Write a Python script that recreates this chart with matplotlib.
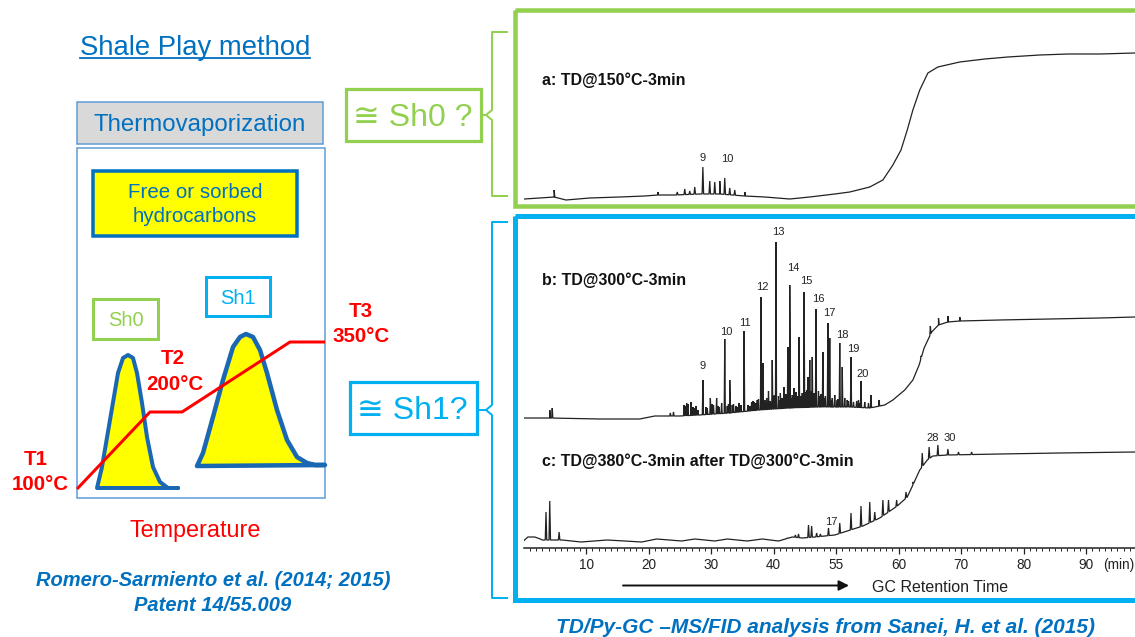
import numpy as np
import matplotlib
matplotlib.use('Agg')
import matplotlib.pyplot as plt
from matplotlib.patches import Rectangle, Polygon

W, H = 1135, 637
plt.rcParams['font.family'] = ['Liberation Sans', 'DejaVu Sans']

# ---------------- data ----------------
tick_pos = [10, 20, 30, 40, 50, 60, 70, 80, 90]
tick_labels = ['10', '20', '30', '40', '55', '60', '70', '80', '90']

# trace a (TD@150C) : baseline (time, signal) and peak apexes (time, signal)
a_base_t = [0.1, 2.6, 4.9, 6.8, 10.6, 15.4, 19.4, 21.5, 24.2, 28.2, 31.4, 35.4, 38.6, 42.6, 45.8,
            49.8, 52.2, 55.4, 57.5, 59.1, 60.4, 61.4, 62.3, 63.4, 64.7, 66.3, 69.8, 73.8, 77.5,
            82.6, 87.1, 92.2, 97.8]
a_base_s = [6, 7, 8, 5, 7, 8, 9, 10, 10, 11, 11, 9, 8, 6, 8,
            11, 13, 18, 25, 40, 55, 75, 95, 115, 132, 138, 143, 146, 148,
            150, 151, 151, 152]
a_peak_t = [4.9, 21.5, 24.6, 25.8, 26.6, 27.4, 28.7, 29.8, 30.6, 31.4, 32.2, 33.0, 33.8, 35.4]
a_peak_s = [15, 13, 13, 16, 14, 18, 38, 24, 23, 24, 27, 17, 15, 13]
a_lab = ['9', '10']
a_lab_t = [28.7, 32.6]
a_lab_s = [44, 43]

# trace b (TD@300C)
b_base_t = [0, 4.2, 12.2, 18.6, 21.0, 25.0, 28.2, 33.0, 37.8, 42.6, 47.4, 52.2, 55.4, 57.8,
            59.1, 61.0, 62.3, 63.3, 64.1, 65.3, 66.4, 67.9, 69.8, 76.2, 84.2, 92.2, 97.8]
b_base_s = [2, 2, 1, 1, 4, 4, 5, 7, 10, 12, 13, 13, 12, 15,
            20, 30, 40, 55, 72, 88, 95, 98, 99, 100, 101, 102, 103]
b_peak_t = [4.2, 4.6, 23.5, 24.0, 26.8, 28.7, 29.9, 30.9, 31.7, 32.2, 33.0, 35.3, 35.9, 36.9,
            38.0, 38.3, 39.2, 39.8, 40.4, 41.1, 41.7, 42.3, 42.6, 43.3, 44.1, 44.9, 45.5, 45.8,
            46.2, 46.8, 47.9, 48.7, 49.0, 50.6, 51.0, 52.4, 54.0, 55.6, 56.9,
            63.6, 65.1, 66.4, 67.9, 69.8]
b_peak_s = [10, 12, 7, 8, 18, 40, 22, 22, 17, 81, 40, 89, 15, 18,
            123, 57, 29, 60, 178, 27, 33, 73, 135, 32, 83, 128, 43, 60,
            63, 111, 68, 97, 82, 77, 53, 63, 39, 25, 20,
            64, 94, 102, 104, 103]
b_noise_t = [25.7, 25.9, 26.1, 26.3, 27.1, 27.3, 27.6, 27.9, 29.2, 29.4, 30.2, 30.4, 31.1, 31.3,
             32.6, 32.8, 33.4, 33.6, 34.0, 34.2, 34.5, 34.8, 36.2, 36.5, 36.7, 37.2, 37.4, 37.6,
             38.6, 38.9, 39.5, 40.0, 40.15, 40.8, 41.0, 41.4, 42.0, 42.9, 43.0, 43.6, 43.8, 44.4,
             44.6, 45.1, 45.3, 46.0, 46.5, 47.2, 47.45, 47.6, 48.1, 48.3, 49.3, 49.4, 49.8, 50.2,
             50.3, 51.4, 51.8, 52.0, 52.8, 53.3, 53.6, 53.8, 54.6, 55.2]
b_noise_s = [15, 14, 17, 16, 13, 12, 14, 10, 13, 12, 16, 15, 14, 13,
             14, 16, 15, 16, 14, 13, 17, 15, 14, 18, 19, 17, 20, 21,
             20, 22, 19, 24, 25, 24, 20, 22, 26, 22, 25, 28, 24, 24,
             27, 28, 30, 29, 27, 29, 24, 26, 22, 24, 20, 22, 25, 20,
             21, 22, 20, 19, 18, 19, 20, 17, 18, 17]
b_lab = ['9', '10', '11', '12', '13', '14', '15', '16', '17', '18', '19', '20']
b_lab_t = [28.7, 32.4, 35.4, 38.2, 40.7, 43.1, 45.2, 47.1, 49.0, 51.0, 52.7, 54.3]
b_lab_s = [51, 85, 94, 130, 185, 149, 136, 118, 104, 82, 68, 43]

# trace c (TD@380C after TD@300C)
c_base_t = [0, 0.7, 1.8, 2.7, 3.0, 6.2, 9.2, 13.4, 18.9, 21.3, 25.3, 27.4, 30.6, 32.6, 35.8,
            38.2, 40.8, 43.0, 44.6, 46.6, 49.8, 51.8, 54.3, 57.0, 59.8, 61.4, 62.3, 63.4, 64.6,
            65.5, 67.8, 76.2, 85.8, 97.8]
c_base_s = [7, 11, 11, 9, 8, 8, 6, 8, 6, 9, 7, 9, 7, 9, 7,
            9, 7, 11, 10, 11, 13, 17, 22, 30, 42, 51, 63, 78, 88,
            92, 93, 94, 95, 96]
c_peak_t = [3.6, 4.2, 5.7, 42.2, 43.5, 44.0, 45.6, 46.1, 46.9, 47.5, 48.8, 50.6, 52.4, 54.0,
            55.4, 56.2, 57.5, 58.4, 59.7, 61.2, 62.3, 63.8, 64.9, 66.3, 67.9, 69.6, 71.7]
c_peak_s = [36, 47, 16, 10, 13, 14, 23, 22, 15, 14, 20, 25, 35, 42,
            46, 36, 48, 48, 48, 56, 66, 95, 101, 103, 99, 96, 96]
c_lab = ['17', '28', '30']
c_lab_t = [49.2, 65.4, 68.2]
c_lab_s = [23, 107, 107]

# schematic (left diagram), figure pixel coordinates
sh0_x = [97, 102, 110, 118, 123, 128, 133, 137, 142, 147, 153, 160, 168, 178]
sh0_y = [488, 467, 420, 373, 358, 355, 358, 373, 403, 437, 467, 482, 488, 488]
sh1_x = [197, 203, 213, 223, 233, 240, 246, 253, 260, 267, 277, 287, 297, 307, 315, 325]
sh1_y = [466, 453, 417, 380, 347, 337, 334, 337, 350, 373, 410, 440, 457, 463, 465, 465]
temp_x = [77, 150, 182, 290, 325]
temp_y = [489, 412, 412, 342, 342]

BLUE = '#0070C0'
GREEN = '#92D050'
CYAN = '#00B0F0'
RED = '#FF0000'
PX = 0.72  # points per pixel at dpi 100

fig = plt.figure(figsize=(W / 100, H / 100), dpi=100)
base = fig.add_axes([0, 0, 1, 1])
base.set_xlim(0, W)
base.set_ylim(H, 0)
base.axis('off')


def rect(x0, y0, x1, y1, ec, lw, fc='none', z=2):
    base.add_patch(Rectangle((x0, y0), x1 - x0, y1 - y0, fc=fc, ec=ec, lw=lw * PX,
                             joinstyle='miter', zorder=z))


# ---------- left diagram ----------
t = base.text(195, 55, 'Shale Play method', color=BLUE, fontsize=19.8, ha='center', va='baseline')
rect(77, 102, 323, 144, '#5B9BD5', 1.5, fc='#D9D9D9')
base.text(200, 131.5, 'Thermovaporization', color=BLUE, fontsize=17.3, ha='center', va='baseline')
rect(77, 148, 325, 498, '#5B9BD5', 1.5)
rect(93, 171, 297, 236, BLUE, 3.5, fc='#FFFF00')
base.text(195, 198, 'Free or sorbed', color=BLUE, fontsize=14.8, ha='center', va='baseline')
base.text(195, 222, 'hydrocarbons', color=BLUE, fontsize=14.8, ha='center', va='baseline')
rect(93, 299, 158, 339, GREEN, 3)
base.text(125.7, 325.7, 'Sh0', color=GREEN, fontsize=14.5, ha='center', va='baseline')
rect(206, 277, 270, 316, CYAN, 3)
base.text(237.5, 304, 'Sh1', color=CYAN, fontsize=14.5, ha='center', va='baseline')

base.add_patch(Polygon(np.column_stack([sh0_x, sh0_y]), closed=True, fc='#FFFF00', ec='#1A68B4',
                       lw=4 * PX, joinstyle='round', zorder=3))
base.add_patch(Polygon(np.column_stack([sh1_x, sh1_y]), closed=True, fc='#FFFF00', ec='#1A68B4',
                       lw=4.5 * PX, joinstyle='round', zorder=3))
base.plot(temp_x, temp_y, color=RED, lw=3 * PX, zorder=4, solid_capstyle='butt')

for s, x, y in [('T1', 36, 465), ('100°C', 40, 490), ('T2', 173, 364), ('200°C', 175, 390),
                ('T3', 361, 317), ('350°C', 361, 342)]:
    base.text(x, y, s, color=RED, fontsize=14.8, fontweight='bold', ha='center', va='baseline')
base.text(195, 537, 'Temperature', color=RED, fontsize=16.8, ha='center', va='baseline')
base.text(213, 585.7, 'Romero-Sarmiento et al. (2014; 2015)', color=BLUE, fontsize=14.5,
          fontweight='bold', fontstyle='italic', ha='center', va='baseline')
base.text(213, 611, 'Patent 14/55.009', color=BLUE, fontsize=14.5,
          fontweight='bold', fontstyle='italic', ha='center', va='baseline')

# ---------- middle labels and brackets ----------
rect(346, 89, 481, 141, GREEN, 3.2)
base.text(413, 126, '≅ Sh0 ?', color=GREEN, fontsize=23, ha='center', va='baseline')
rect(350, 382, 477, 434, CYAN, 3.2)
base.text(412.5, 419, '≅ Sh1?', color=CYAN, fontsize=23, ha='center', va='baseline')

base.plot([507, 492, 492, 486, 492, 492, 507], [32, 32, 110, 115, 120, 196, 196], color=GREEN, lw=2 * PX)
base.plot([481, 486], [115, 115], color=GREEN, lw=2 * PX)
base.plot([507, 492, 492, 486, 492, 492, 507], [222, 222, 405, 410, 415, 598, 598], color=CYAN, lw=2 * PX)
base.plot([477, 486], [410, 410], color=CYAN, lw=2 * PX)

# panels
rect(515, 10, 1145, 206, GREEN, 4.5)
rect(515, 216, 1145, 600, CYAN, 5)

base.text(542, 85, 'a: TD@150°C-3min', fontsize=11.5, fontweight='bold', color='#111', va='baseline')
base.text(542, 285, 'b: TD@300°C-3min', fontsize=11.5, fontweight='bold', color='#111', va='baseline')
base.text(542, 465.7, 'c: TD@380°C-3min after TD@300°C-3min', fontsize=11.5, fontweight='bold',
          color='#111', va='baseline')
base.text(825, 633, 'TD/Py-GC –MS/FID analysis from Sanei, H. et al. (2015)', color=BLUE, fontsize=15,
          fontweight='bold', fontstyle='italic', ha='center', va='baseline')
base.annotate('', xy=(849, 585.5), xytext=(623, 585.5),
              arrowprops=dict(arrowstyle='-|>', color='#111', lw=1.4, mutation_scale=15,
                              shrinkA=0, shrinkB=0))
base.text(940, 591.5, 'GC Retention Time', fontsize=11.5, color='#222', ha='center', va='baseline')
base.text(1119, 569, '(min)', fontsize=9.8, color='#222', ha='center', va='baseline')

# ---------- chromatogram axes ----------
X0, X1 = 523.5, 1135
PX_PER_MIN = 6.25
TMAX = (X1 - X0) / PX_PER_MIN


def px_axes(y_top, y_bot, ymax):
    ax = fig.add_axes([X0 / W, 1 - y_bot / H, (X1 - X0) / W, (y_bot - y_top) / H])
    ax.set_xlim(0, TMAX)
    ax.set_ylim(0, ymax)
    ax.patch.set_alpha(0)
    return ax


def trace(ax, bt, bs, pts, hw=0.12):
    bt = np.asarray(bt, float)
    bs = np.asarray(bs, float)
    tt = list(bt)
    ss = list(bs)
    for (pt, ps) in pts:
        for p, v in zip(pt, ps):
            tt += [p - hw, p, p + hw]
            ss += [np.interp(p - hw, bt, bs), v, np.interp(p + hw, bt, bs)]
    tt = np.asarray(tt)
    ss = np.asarray(ss)
    o = np.argsort(tt, kind='stable')
    ax.plot(tt[o], ss[o], color='#222', lw=0.9, solid_joinstyle='miter')


ax_a = px_axes(15, 205, 190)
ax_a.axis('off')
trace(ax_a, a_base_t, a_base_s, [(a_peak_t, a_peak_s)])
for s, x, y in zip(a_lab, a_lab_t, a_lab_s):
    ax_a.text(x, y, s, fontsize=8, ha='center', va='baseline', color='#222')

ax_b = px_axes(215, 420, 205)
ax_b.axis('off')
trace(ax_b, b_base_t, b_base_s, [(b_peak_t, b_peak_s), (b_noise_t, b_noise_s)], hw=0.09)
for s, x, y in zip(b_lab, b_lab_t, b_lab_s):
    ax_b.text(x, y, s, fontsize=8, ha='center', va='baseline', color='#222')

ax_c = px_axes(425, 548, 123)
trace(ax_c, c_base_t, c_base_s, [(c_peak_t, c_peak_s)])
for s, x, y in zip(c_lab, c_lab_t, c_lab_s):
    ax_c.text(x, y, s, fontsize=8, ha='center', va='baseline', color='#222')
for sp in ['top', 'left', 'right']:
    ax_c.spines[sp].set_visible(False)
ax_c.spines['bottom'].set_linewidth(1.1)
ax_c.spines['bottom'].set_color('#222')
ax_c.set_yticks([])
ax_c.set_xticks(tick_pos, tick_labels)
ax_c.set_xticks(np.arange(1, int(TMAX) + 1), minor=True)
ax_c.tick_params(axis='x', which='major', direction='out', length=4.5, width=0.9, pad=3,
                 labelsize=9.8, colors='#222')
ax_c.tick_params(axis='x', which='minor', direction='out', length=2.5, width=0.7, colors='#222')

# underline for title
fig.canvas.draw()
bb = t.get_window_extent()
base.plot([bb.x0, bb.x1], [57.5, 57.5], color=BLUE, lw=1.3)

fig.savefig('out.png', dpi=100)
